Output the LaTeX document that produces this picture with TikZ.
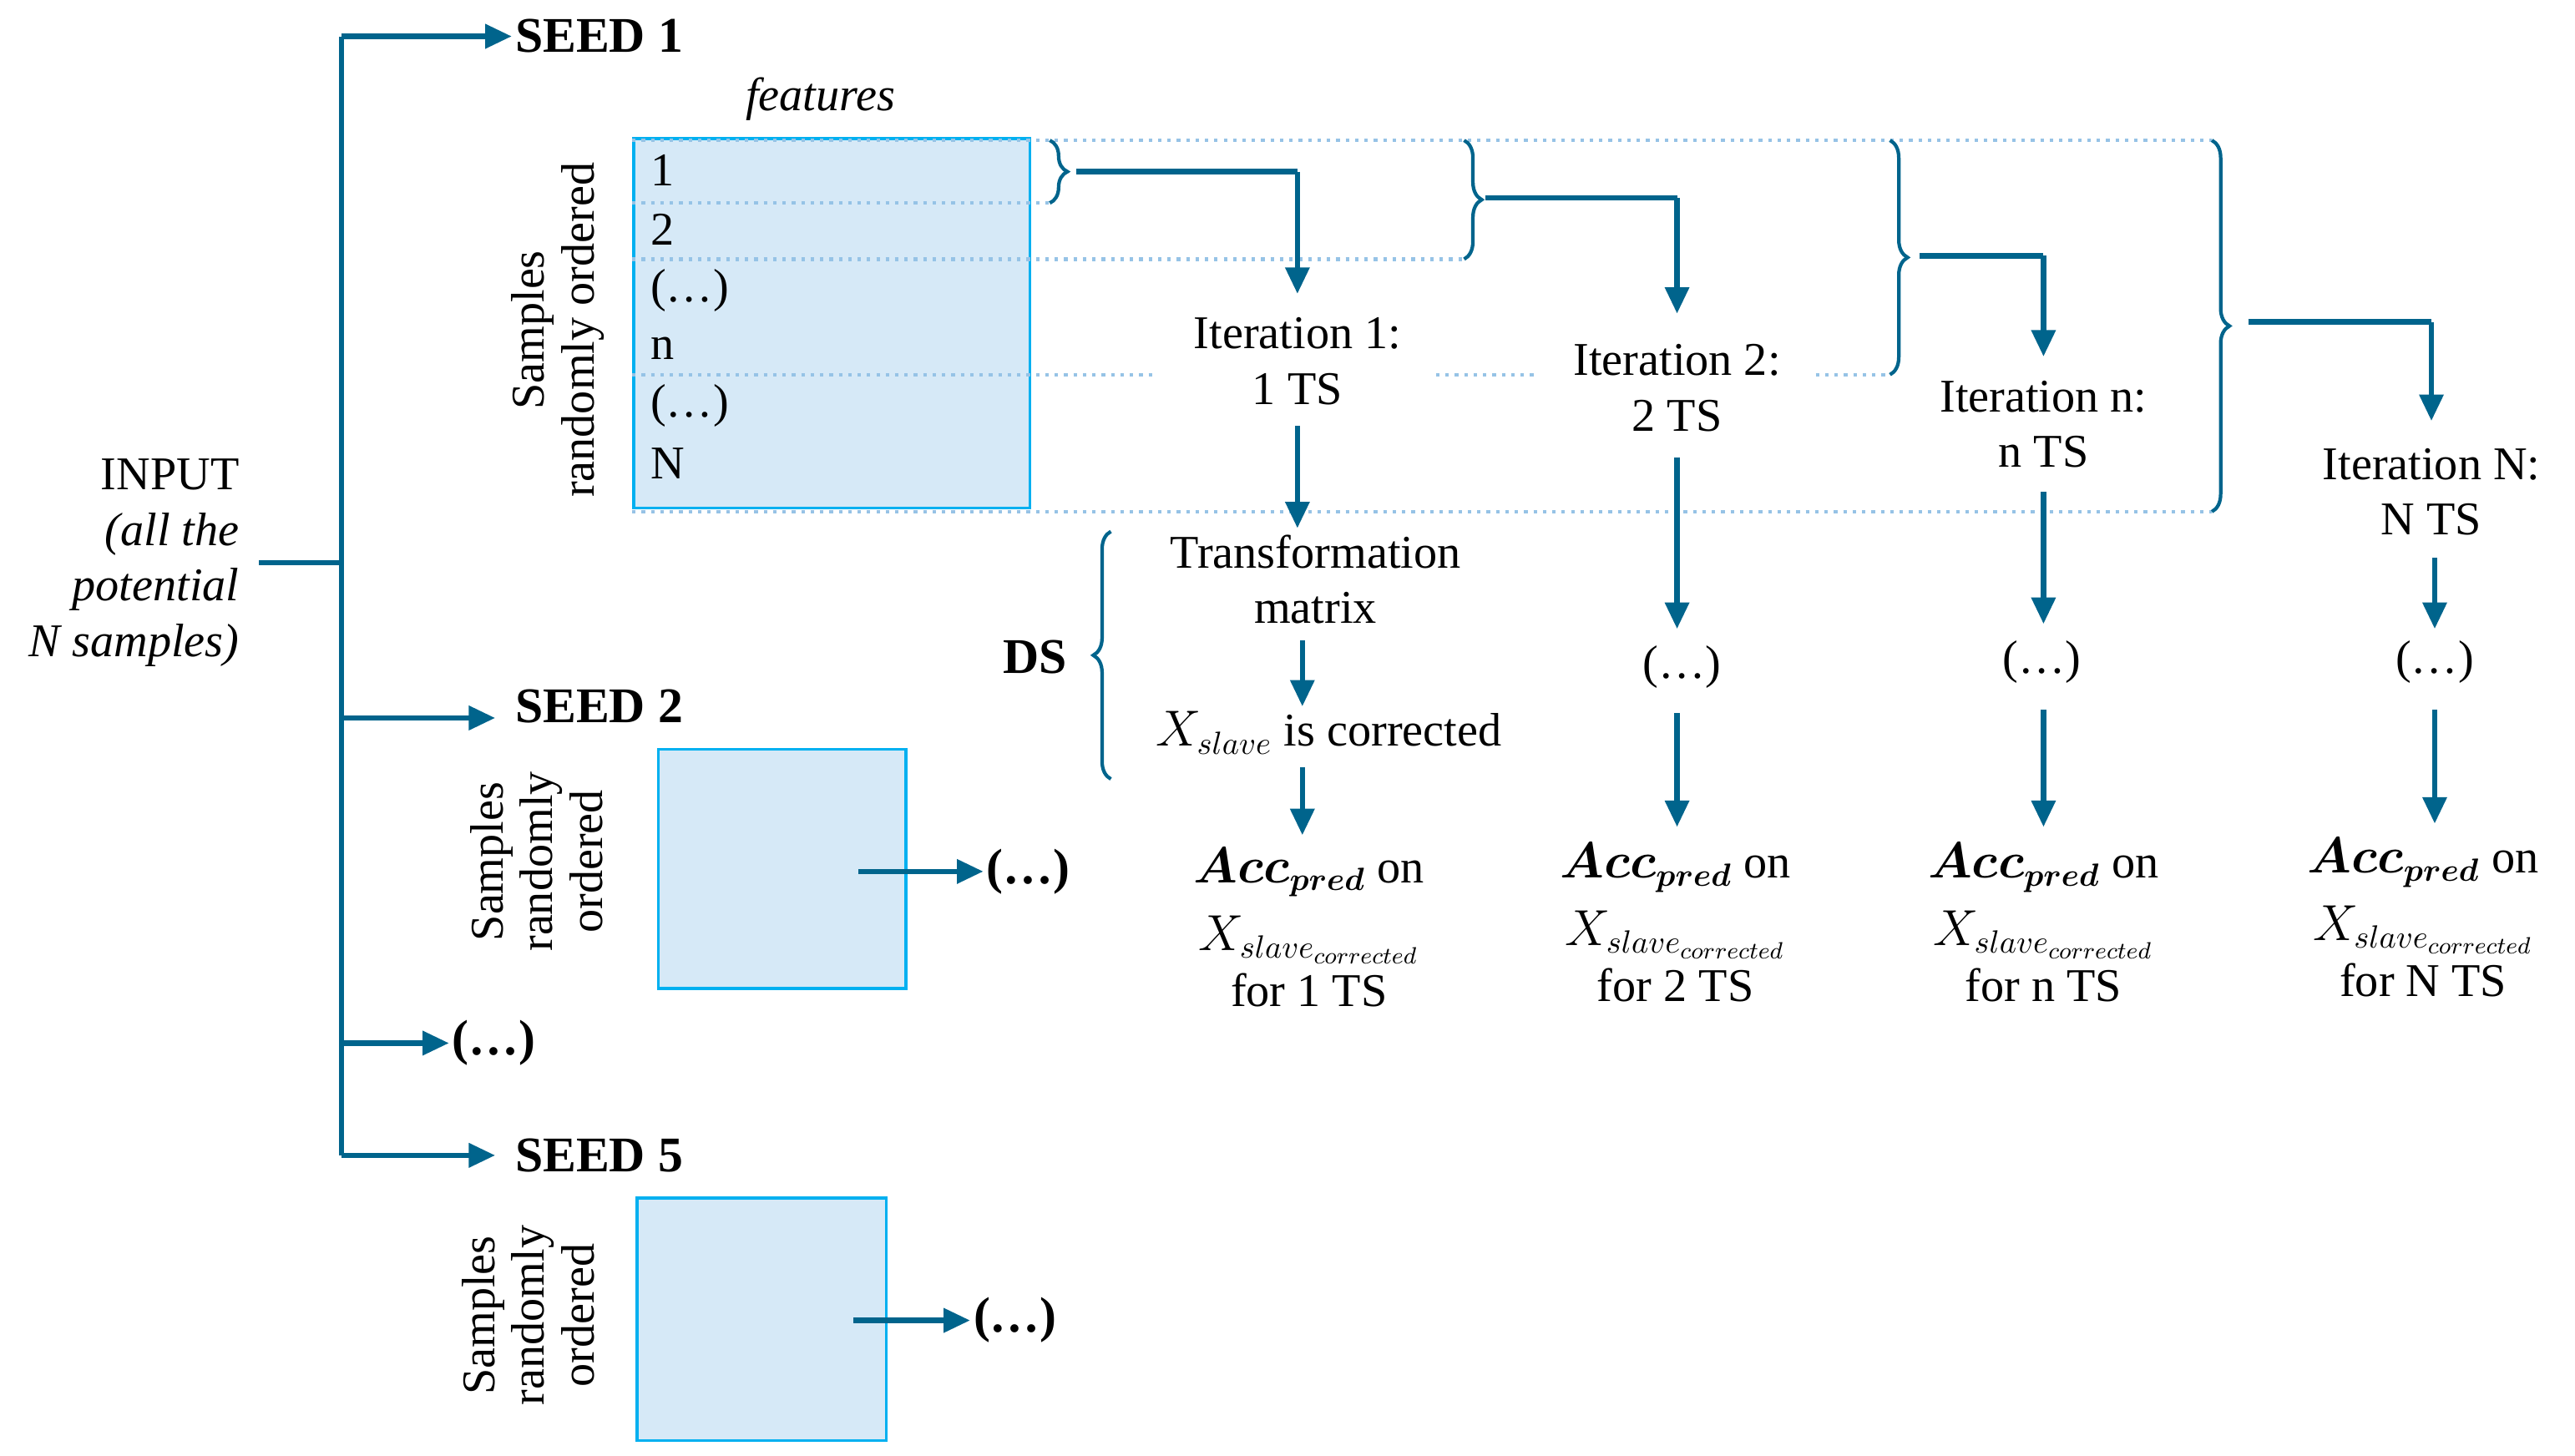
\documentclass[tikz,border=0pt]{standalone}
\usepackage{amsmath,bm}
\usepackage{fontspec}
\setmainfont{Liberation Serif}
\usetikzlibrary{arrows.meta,decorations.pathreplacing}
\definecolor{arr}{RGB}{0,100,140}
\definecolor{boxf}{RGB}{214,233,247}
\definecolor{boxd}{RGB}{0,176,240}
\definecolor{dotc}{RGB}{150,195,230}
\begin{document}
\begin{tikzpicture}[x=0.01977cm,y=-0.01977cm,
  every node/.style={font=\fontsize{16}{19}\selectfont,inner sep=1pt},
  a/.style={draw=arr,line width=1.8pt,-{Triangle[length=9pt,width=8pt]}},
  ln/.style={draw=arr,line width=1.8pt},
  mat/.style={draw=boxd,fill=boxf,line width=1pt},
  dl/.style={draw=dotc,line width=1.2pt,dotted},
  br/.style={draw=arr,line width=1.2pt,decorate,decoration={brace,amplitude=6pt}},
  b/.style={font=\fontsize{17}{20}\selectfont\bfseries},
  rot/.style={rotate=90,align=center,font=\fontsize{16}{17}\selectfont}]
\useasboundingbox (0,0) rectangle (1560,882);
% input
\node[align=right,anchor=east] (in) at (147,341) {INPUT\\\itshape (all the\\\itshape potential\\\itshape N samples)};
\coordinate (t0) at (207,341);
\coordinate (t1) at (207,22);
\coordinate (t5) at (207,700);
\draw[ln] (157,341) -- (t0);
\draw[ln] (t1) -- (t5);
\node[b,anchor=west] (s1) at (310,22) {SEED 1};
\node[b,anchor=west] (s2) at (310,428) {SEED 2};
\node[b,anchor=west] (s3) at (272,632) {(…)};
\node[b,anchor=west] (s5) at (310,700) {SEED 5};
\coordinate (c2) at (207,435);
\coordinate (c3) at (207,632);
\draw[a] (t1) -- (s1.west);
\draw[a] (c2) -- (300,435);
\draw[a] (c3) -- (s3.west);
\draw[a] (t5) -- (300,700);
% seed1 matrix
\node[mat,minimum width=240*0.01977cm,minimum height=224*0.01977cm,anchor=north west] (m1) at (383,83) {};
\node[font=\fontsize{16}{19}\selectfont\itshape] (feat) at (497,60) {features};
\node[rot] (sr1) at (338,200) {Samples\\randomly ordered};
\foreach \t/\y [count=\i] in {1/103,2/139,(…)/176,n/211,(…)/246,N/281}
  \node[anchor=west] (r\i) at (392,\y) {\t};
\draw[dl] (383,85) -- (1340,85);
\draw[dl] (383,123) -- (636,123);
\draw[dl] (383,157) -- (887,157);
\draw[dl] (383,227) -- (700,227);
\draw[dl] (870,227) -- (930,227);
\draw[dl] (1100,227) -- (1145,227);
\draw[dl] (383,310) -- (1340,310);
% braces
\draw[br] (636,85) -- (636,123);
\draw[br] (887,85) -- (887,157);
\draw[br] (1145,85) -- (1145,227);
\draw[br] (1340,85) -- (1340,310);
% iterations
\node[align=center] (i1) at (786,219) {Iteration 1:\\1 TS};
\node[align=center] (i2) at (1016,235) {Iteration 2:\\2 TS};
\node[align=center] (i3) at (1238,257) {Iteration n:\\n TS};
\node[align=center] (i4) at (1473,298) {Iteration N:\\N TS};
\coordinate (k1) at (786,104);
\coordinate (k2) at (1016,120);
\coordinate (k3) at (1238,155);
\coordinate (k4) at (1473,195);
\draw[ln] (652,104) -- (k1);
\draw[a] (k1) -- (786,178);
\draw[ln] (900,120) -- (k2);
\draw[a] (k2) -- (1016,190);
\draw[ln] (1163,155) -- (k3);
\draw[a] (k3) -- (1238,216);
\draw[ln] (1362,195) -- (k4);
\draw[a] (k4) -- (1473,255);
% column 1
\node[align=center] (tm) at (797,351) {Transformation\\matrix};
\node (xc) at (805,444) {$X_{slave}$ is corrected};
\node[align=center] (ac1) at (793,562) {$\bm{Acc_{pred}}$ on\\[4pt]$X_{slave_{corrected}}$\\for 1 TS};
\draw[a] (786,258) -- (786,320);
\draw[a] (789,388) -- (789,428);
\draw[a] (789,465) -- (789,506);
\draw[br] (673,472) -- (673,322);
\node[b] (ds) at (627,398) {DS};
% column 2
\node (d2) at (1019,404) {(…)};
\node[align=center] (ac2) at (1015,559) {$\bm{Acc_{pred}}$ on\\[4pt]$X_{slave_{corrected}}$\\for 2 TS};
\draw[a] (1016,277) -- (1016,381);
\draw[a] (1016,432) -- (1016,501);
% column 3
\node (d3) at (1237,401) {(…)};
\node[align=center] (ac3) at (1238,559) {$\bm{Acc_{pred}}$ on\\[4pt]$X_{slave_{corrected}}$\\for n TS};
\draw[a] (1238,298) -- (1238,378);
\draw[a] (1238,430) -- (1238,501);
% column 4
\node (d4) at (1475,401) {(…)};
\node[align=center] (ac4) at (1468,556) {$\bm{Acc_{pred}}$ on\\[4pt]$X_{slave_{corrected}}$\\for N TS};
\draw[a] (1475,338) -- (1475,381);
\draw[a] (1475,430) -- (1475,499);
% seed 2
\node[mat,minimum width=150*0.01977cm,minimum height=145*0.01977cm,anchor=north west] (m2) at (398,453) {};
\node[rot] (sr2) at (325,522) {Samples\\randomly\\ordered};
\node[b] (e2) at (623,528) {(…)};
\draw[a] (520,528) -- (e2.west);
% seed 5
\node[mat,minimum width=151*0.01977cm,minimum height=147*0.01977cm,anchor=north west] (m5) at (385,725) {};
\node[rot] (sr5) at (320,797) {Samples\\randomly\\ordered};
\node[b] (e5) at (615,800) {(…)};
\draw[a] (517,800) -- (e5.west);
\end{tikzpicture}
\end{document}
